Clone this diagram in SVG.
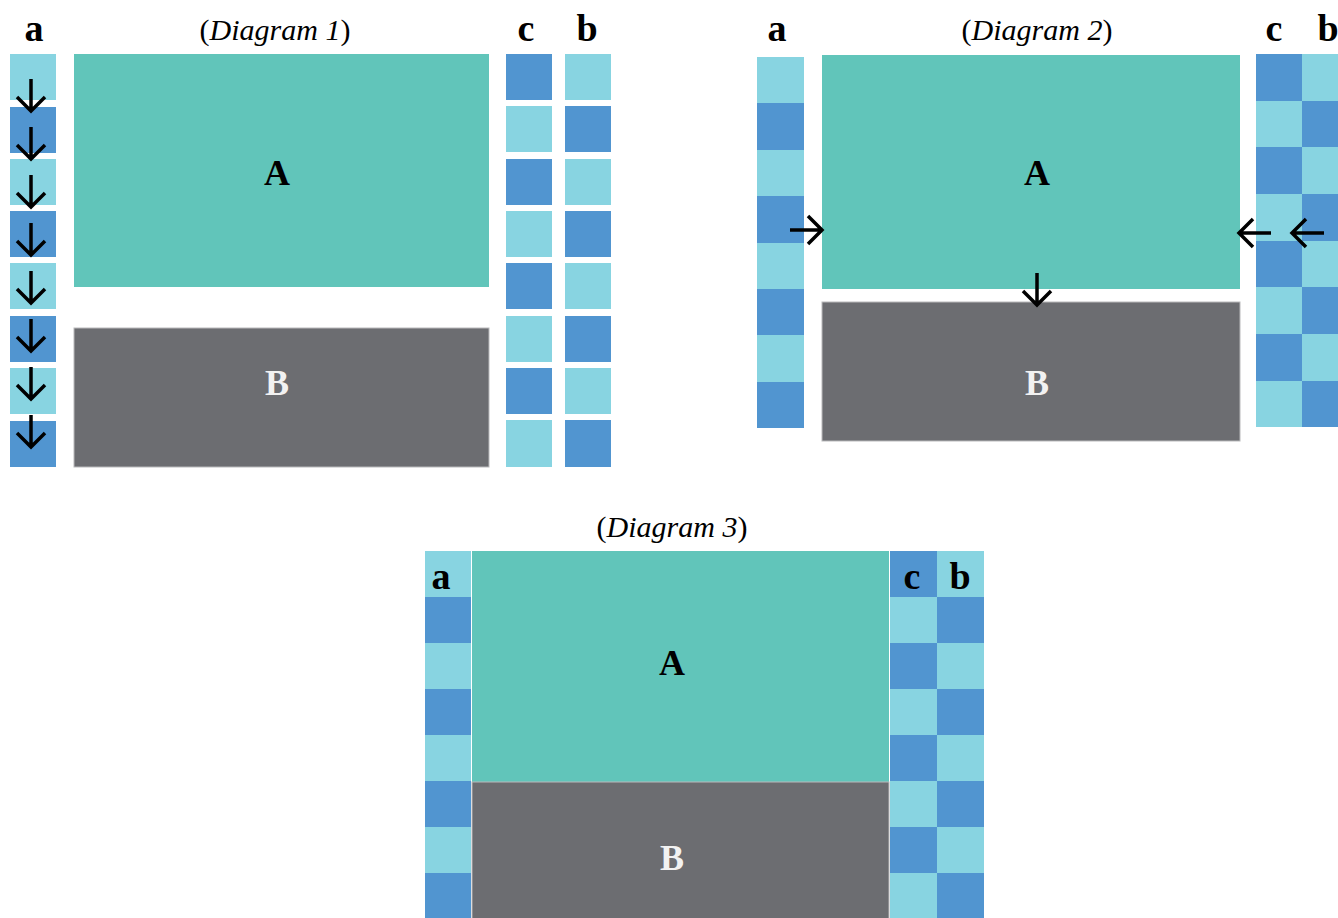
<svg xmlns="http://www.w3.org/2000/svg" xmlns:xlink="http://www.w3.org/1999/xlink" width="1338" height="918" viewBox="0 0 1338 918">
<style>
.lt{fill:#88D4E1}
.dk{fill:#5195D0}
.ra{fill:#61C5BA}
.rb{fill:#6C6D71;stroke:#B9BABC;stroke-width:1}
.lbl{font-family:"Liberation Serif",serif;font-weight:bold;font-size:38px;fill:#000;text-anchor:middle}
.big{font-family:"Liberation Serif",serif;font-weight:bold;font-size:36px;text-anchor:middle}
.ttl{font-family:"Liberation Serif",serif;font-size:30px;fill:#000;text-anchor:middle}
.arr{fill:none;stroke:#000;stroke-width:3.5}
</style>
<defs>
<path id="ad" class="arr" d="M0,0 V32 M-14,18 L0,32 L14,18"/>
</defs>
<rect width="1338" height="918" fill="#fff"/>

<!-- Diagram 1 -->
<g id="d1-title"><text class="ttl" x="275" y="40">(<tspan font-style="italic">Diagram 1</tspan>)</text></g>
<g id="d1-col-a">
<rect class="lt" x="10" y="54" width="46" height="46"/>
<rect class="dk" x="10" y="107" width="46" height="46"/>
<rect class="lt" x="10" y="159" width="46" height="46"/>
<rect class="dk" x="10" y="211" width="46" height="46"/>
<rect class="lt" x="10" y="263" width="46" height="46"/>
<rect class="dk" x="10" y="316" width="46" height="46"/>
<rect class="lt" x="10" y="368" width="46" height="46"/>
<rect class="dk" x="10" y="421" width="46" height="46"/>
<text class="lbl" x="34" y="41">a</text>
</g>
<g id="d1-A"><rect class="ra" x="74" y="54" width="415" height="233"/><text class="big" x="277" y="185" fill="#000">A</text></g>
<g id="d1-B"><rect class="rb" x="74" y="328" width="415" height="139"/><text class="big" x="277" y="395" fill="#F2F2F2">B</text></g>
<g id="d1-col-c">
<rect class="dk" x="506" y="54" width="46" height="46"/>
<rect class="lt" x="506" y="106" width="46" height="46"/>
<rect class="dk" x="506" y="159" width="46" height="46"/>
<rect class="lt" x="506" y="211" width="46" height="46"/>
<rect class="dk" x="506" y="263" width="46" height="46"/>
<rect class="lt" x="506" y="316" width="46" height="46"/>
<rect class="dk" x="506" y="368" width="46" height="46"/>
<rect class="lt" x="506" y="420" width="46" height="47"/>
<text class="lbl" x="526" y="41">c</text>
</g>
<g id="d1-col-b">
<rect class="lt" x="565" y="54" width="46" height="46"/>
<rect class="dk" x="565" y="106" width="46" height="46"/>
<rect class="lt" x="565" y="159" width="46" height="46"/>
<rect class="dk" x="565" y="211" width="46" height="46"/>
<rect class="lt" x="565" y="263" width="46" height="46"/>
<rect class="dk" x="565" y="316" width="46" height="46"/>
<rect class="lt" x="565" y="368" width="46" height="46"/>
<rect class="dk" x="565" y="420" width="46" height="47"/>
<text class="lbl" x="587" y="41">b</text>
</g>

<!-- Diagram 2 -->
<g id="d2-title"><text class="ttl" x="1037" y="40">(<tspan font-style="italic">Diagram 2</tspan>)</text></g>
<g id="d2-col-a">
<rect class="lt" x="757" y="57" width="47" height="46"/>
<rect class="dk" x="757" y="103" width="47" height="47"/>
<rect class="lt" x="757" y="150" width="47" height="46"/>
<rect class="dk" x="757" y="196" width="47" height="47"/>
<rect class="lt" x="757" y="243" width="47" height="46"/>
<rect class="dk" x="757" y="289" width="47" height="46"/>
<rect class="lt" x="757" y="335" width="47" height="47"/>
<rect class="dk" x="757" y="382" width="47" height="46"/>
<text class="lbl" x="777" y="41">a</text>
</g>
<g id="d2-A"><rect class="ra" x="822" y="55" width="418" height="234"/><text class="big" x="1037" y="185" fill="#000">A</text></g>
<g id="d2-B"><rect class="rb" x="822" y="302" width="418" height="139"/><text class="big" x="1037" y="395" fill="#F2F2F2">B</text></g>
<g id="d2-col-c">
<rect class="dk" x="1256" y="54" width="46" height="47"/>
<rect class="lt" x="1256" y="101" width="46" height="46"/>
<rect class="dk" x="1256" y="147" width="46" height="47"/>
<rect class="lt" x="1256" y="194" width="46" height="47"/>
<rect class="dk" x="1256" y="241" width="46" height="46"/>
<rect class="lt" x="1256" y="287" width="46" height="47"/>
<rect class="dk" x="1256" y="334" width="46" height="47"/>
<rect class="lt" x="1256" y="381" width="46" height="46"/>
<text class="lbl" x="1274" y="41">c</text>
</g>
<g id="d2-col-b">
<rect class="lt" x="1302" y="54" width="36" height="47"/>
<rect class="dk" x="1302" y="101" width="36" height="46"/>
<rect class="lt" x="1302" y="147" width="36" height="47"/>
<rect class="dk" x="1302" y="194" width="36" height="47"/>
<rect class="lt" x="1302" y="241" width="36" height="46"/>
<rect class="dk" x="1302" y="287" width="36" height="47"/>
<rect class="lt" x="1302" y="334" width="36" height="47"/>
<rect class="dk" x="1302" y="381" width="36" height="46"/>
<text class="lbl" x="1328" y="41">b</text>
</g>

<!-- Diagram 3 -->
<g id="d3-title"><text class="ttl" x="672" y="537">(<tspan font-style="italic">Diagram 3</tspan>)</text></g>
<g id="d3-col-a">
<rect class="lt" x="425" y="551" width="46" height="46"/>
<rect class="dk" x="425" y="597" width="46" height="46"/>
<rect class="lt" x="425" y="643" width="46" height="46"/>
<rect class="dk" x="425" y="689" width="46" height="46"/>
<rect class="lt" x="425" y="735" width="46" height="46"/>
<rect class="dk" x="425" y="781" width="46" height="46"/>
<rect class="lt" x="425" y="827" width="46" height="46"/>
<rect class="dk" x="425" y="873" width="46" height="46"/>
<text class="lbl" x="441" y="589">a</text>
</g>
<g id="d3-A"><rect class="ra" x="472" y="551" width="417" height="231"/><text class="big" x="672" y="675" fill="#000">A</text></g>
<g id="d3-B"><rect class="rb" x="472" y="782" width="417" height="140"/><text class="big" x="672" y="870" fill="#F2F2F2">B</text></g>
<g id="d3-col-c">
<rect class="dk" x="890" y="551" width="47" height="46"/>
<rect class="lt" x="890" y="597" width="47" height="46"/>
<rect class="dk" x="890" y="643" width="47" height="46"/>
<rect class="lt" x="890" y="689" width="47" height="46"/>
<rect class="dk" x="890" y="735" width="47" height="46"/>
<rect class="lt" x="890" y="781" width="47" height="46"/>
<rect class="dk" x="890" y="827" width="47" height="46"/>
<rect class="lt" x="890" y="873" width="47" height="46"/>
<text class="lbl" x="912" y="589">c</text>
</g>
<g id="d3-col-b">
<rect class="lt" x="937" y="551" width="47" height="46"/>
<rect class="dk" x="937" y="597" width="47" height="46"/>
<rect class="lt" x="937" y="643" width="47" height="46"/>
<rect class="dk" x="937" y="689" width="47" height="46"/>
<rect class="lt" x="937" y="735" width="47" height="46"/>
<rect class="dk" x="937" y="781" width="47" height="46"/>
<rect class="lt" x="937" y="827" width="47" height="46"/>
<rect class="dk" x="937" y="873" width="47" height="46"/>
<text class="lbl" x="960" y="589">b</text>
</g>

<!-- Connectors -->
<g id="connectors">
<use xlink:href="#ad" href="#ad" transform="translate(31,79)"/>
<use xlink:href="#ad" href="#ad" transform="translate(31,127)"/>
<use xlink:href="#ad" href="#ad" transform="translate(31,175)"/>
<use xlink:href="#ad" href="#ad" transform="translate(31,223)"/>
<use xlink:href="#ad" href="#ad" transform="translate(31,271)"/>
<use xlink:href="#ad" href="#ad" transform="translate(31,319)"/>
<use xlink:href="#ad" href="#ad" transform="translate(31,367)"/>
<use xlink:href="#ad" href="#ad" transform="translate(31,415)"/>
<use xlink:href="#ad" href="#ad" transform="translate(790,230) rotate(-90)"/>
<use xlink:href="#ad" href="#ad" transform="translate(1271,233) rotate(90)"/>
<use xlink:href="#ad" href="#ad" transform="translate(1324,233) rotate(90)"/>
<use xlink:href="#ad" href="#ad" transform="translate(1037,273)"/>
</g>
</svg>
